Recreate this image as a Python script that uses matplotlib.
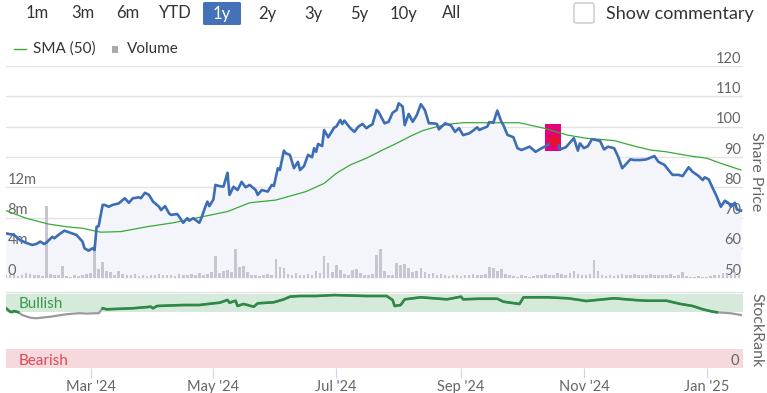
import numpy as np
import pandas as pd
import matplotlib
matplotlib.use("Agg")
import matplotlib.pyplot as plt
from matplotlib.patches import Rectangle, FancyBboxPatch
from matplotlib.lines import Line2D

plt.rcParams['font.family'] = ['Lato', 'DejaVu Sans']

W, H = 767, 393
start = pd.Timestamp('2024-01-19')
end = pd.Timestamp('2025-01-19')

# share price (days after start, price)
price_day = [0, 4, 7, 10, 13, 15, 17, 19, 20, 23,
             24, 27, 29, 32, 35, 38, 39, 41, 43, 44,
             45, 46, 48, 49, 51, 53, 56, 59, 61, 63,
             66, 67, 69, 71, 73, 76, 77, 79, 81, 82,
             85, 86, 88, 90, 91, 93, 96, 97, 99, 100,
             101, 103, 104, 106, 108, 110, 111, 113, 115, 117,
             119, 121, 124, 125, 127, 130, 132, 133, 135, 136,
             138, 139, 141, 143, 145, 146, 148, 150, 152, 153,
             154, 155, 157, 158, 160, 163, 164, 166, 167, 168,
             171, 173, 175, 177, 179, 180, 182, 184, 185, 188,
             190, 192, 194, 195, 197, 198, 200, 202, 204, 206,
             208, 210, 212, 214, 215, 218, 221, 223, 225, 227,
             230, 232, 234, 235, 237, 239, 240, 242, 244, 246,
             247, 249, 252, 254, 256, 260, 263, 266, 269, 272,
             274, 275, 278, 280, 282, 284, 285, 287, 289, 291,
             293, 295, 297, 299, 302, 304, 306, 308, 310, 312,
             315, 318, 322, 324, 327, 329, 331, 334, 336, 339,
             341, 344, 346, 347, 349, 351, 353, 355, 357, 359,
             360, 362, 363, 365]
price = [64.8, 64.3, 62.6, 61.7, 61.0, 61.3, 62.1, 61.3, 61.7, 63.7,
         63.2, 64.8, 65.7, 65.0, 64.3, 62.1, 59.9, 59.1, 59.9, 59.3,
         67.0, 67.2, 74.2, 74.2, 73.6, 74.2, 74.7, 76.4, 74.9, 76.4,
         76.7, 76.4, 78.2, 77.5, 75.3, 73.6, 72.5, 73.8, 71.4, 70.9,
         71.2, 70.3, 68.3, 69.8, 69.0, 69.8, 68.3, 69.8, 73.6, 75.3,
         73.8, 76.0, 80.8, 80.4, 80.2, 84.8, 77.5, 80.2, 79.1, 81.8,
         80.0, 80.8, 79.1, 77.5, 79.1, 78.6, 80.8, 80.4, 86.3, 85.7,
         92.1, 91.2, 90.7, 86.3, 88.4, 85.7, 87.0, 90.7, 89.9, 92.9,
         91.7, 94.3, 93.6, 98.9, 96.5, 99.7, 100.0, 102.2, 100.9, 102.0,
         99.5, 98.3, 100.0, 100.9, 99.5, 100.0, 100.8, 105.5, 104.9, 101.1,
         101.6, 104.6, 105.5, 107.7, 106.6, 100.5, 104.2, 101.6, 103.8, 107.4,
         105.5, 101.1, 101.1, 100.9, 99.1, 101.1, 100.4, 98.3, 99.5, 97.2,
         97.8, 98.7, 99.8, 98.9, 99.5, 100.0, 101.5, 101.3, 105.3, 101.6,
         100.5, 97.3, 96.5, 92.9, 92.3, 93.4, 91.7, 92.9, 93.9, 95.6,
         95.0, 92.5, 93.2, 94.7, 96.2, 92.1, 94.5, 92.9, 93.6, 95.9,
         95.6, 95.3, 92.5, 93.4, 92.9, 90.1, 86.3, 87.7, 89.2, 89.0,
         89.0, 89.2, 90.3, 88.4, 87.4, 85.7, 84.1, 84.1, 83.7, 86.6,
         85.1, 83.7, 82.4, 83.3, 82.6, 79.7, 76.9, 73.6, 75.6, 74.7,
         73.6, 74.9, 72.7, 72.3]

# 50 day moving average
sma_day = [0, 10, 21, 30, 38, 47, 57, 70, 83, 96,
           110, 121, 134, 141, 149, 158, 164, 171, 179, 187,
           194, 201, 207, 214, 221, 227, 237, 247, 255, 267,
           279, 288, 302, 312, 320, 328, 340, 348, 355, 365]
sma = [72.3, 69.8, 67.9, 67.0, 66.5, 65.2, 65.4, 67.0, 68.3, 70.1,
       72.0, 74.9, 75.8, 77.1, 78.6, 81.3, 84.6, 87.4, 89.6, 92.3,
       94.5, 96.9, 98.7, 100.0, 100.9, 101.3, 101.3, 101.3, 101.3, 99.5,
       97.2, 96.2, 95.4, 93.6, 92.3, 91.7, 90.3, 89.6, 87.9, 85.7]

# volume in millions, one bar every 2 days
volume = [0.5, 0.4, 0.6, 0.3, 0.5, 0.7, 0.6, 0.4, 0.5, 0.3,
          9.6, 0.6, 0.4, 0.5, 1.6, 0.3, 0.2, 0.4, 0.3, 0.5,
          0.6, 0.7, 4.4, 1.2, 2.1, 1.0, 0.8, 0.5, 0.9, 0.6,
          0.5, 0.4, 0.6, 0.3, 0.4, 0.3, 0.5, 0.4, 0.6, 0.5,
          0.4, 0.5, 0.3, 0.6, 0.5, 0.4, 0.6, 0.5, 0.7, 0.5,
          0.6, 0.8, 2.9, 0.7, 0.9, 1.1, 0.8, 3.9, 1.5, 1.6,
          0.8, 0.5, 0.4, 0.3, 0.5, 0.6, 0.5, 2.6, 1.5, 1.3,
          0.6, 0.5, 0.7, 0.4, 0.5, 0.6, 0.5, 0.9, 0.7, 2.9,
          2.0, 0.8, 1.8, 1.1, 0.6, 0.5, 1.1, 1.2, 0.7, 0.5,
          0.4, 0.6, 3.1, 3.9, 0.9, 0.5, 0.4, 2.0, 1.8, 1.9,
          1.3, 0.8, 0.9, 1.3, 0.8, 0.6, 0.7, 0.5, 0.6, 0.4,
          0.3, 0.5, 0.4, 0.3, 0.5, 0.4, 0.6, 0.5, 0.4, 0.6,
          1.5, 1.3, 0.9, 1.2, 0.6, 0.5, 0.3, 0.2, 0.4, 0.3,
          0.2, 0.3, 0.4, 0.5, 0.6, 0.4, 0.5, 0.7, 0.6, 0.5,
          0.7, 0.9, 0.6, 0.5, 0.4, 0.6, 2.4, 0.9, 0.5, 0.3,
          0.4, 0.3, 0.5, 0.6, 0.4, 0.5, 0.6, 0.5, 0.4, 0.5,
          0.6, 0.5, 0.4, 0.5, 0.4, 0.6, 0.3, 0.5, 0.8, 0.3,
          0.2, 0.2, 0.3, 0.2, 0.2, 0.3, 0.4, 0.5, 0.7, 0.6,
          0.5, 0.8, 0.6]

# StockRank
rank_day = [0, 2, 3, 4, 6, 8, 12, 15, 22, 30,
            36, 38, 40, 43, 46, 48, 50, 63, 72, 73,
            75, 88, 96, 103, 106, 110, 111, 114, 115, 118,
            123, 125, 133, 138, 141, 146, 154, 163, 179, 189,
            192, 193, 196, 198, 206, 219, 226, 227, 235, 244,
            247, 255, 257, 269, 279, 285, 288, 302, 312, 318,
            328, 335, 341, 346, 351, 353, 360, 365]
rank = [80.7, 76.1, 75.5, 77.0, 75.5, 71.6, 68.0, 67.2, 69.3, 72.6,
        74.0, 73.9, 73.5, 73.9, 74.0, 80.7, 79.3, 80.7, 82.8, 80.7,
        83.8, 85.1, 85.1, 87.4, 88.2, 91.9, 88.2, 90.9, 83.8, 86.5,
        82.8, 87.4, 88.8, 92.8, 96.4, 97.3, 97.3, 98.6, 97.3, 97.3,
        91.9, 83.8, 85.1, 92.8, 95.5, 92.8, 96.4, 92.8, 93.6, 93.6,
        89.6, 86.5, 95.5, 95.5, 94.2, 91.9, 90.5, 94.2, 91.9, 90.9,
        90.9, 86.5, 83.8, 79.3, 76.1, 75.3, 73.9, 71.6]

event_day = 272
event_price = 95.6

buttons = ['1m', '3m', '6m', 'YTD', '1y', '2y', '3y', '5y', '10y', 'All']
month_ticks = ['2024-03-01', '2024-05-01', '2024-07-01', '2024-09-01', '2024-11-01', '2025-01-01']
month_labels = ["Mar '24", "May '24", "Jul '24", "Sep '24", "Nov '24", "Jan '25"]
price_ticks = [50, 60, 70, 80, 90, 100, 110, 120]
vol_ticks = [0, 4, 8, 12]
vol_labels = ['0', '4m', '8m', '12m']

price_dates = start + pd.to_timedelta(price_day, unit='D')
sma_dates = start + pd.to_timedelta(sma_day, unit='D')
vol_dates = start + pd.to_timedelta(np.arange(len(volume)) * 2, unit='D')
rank_dates = start + pd.to_timedelta(rank_day, unit='D')
event_date = start + pd.Timedelta(days=event_day)


def fx(x):
    return x / W


def fy(y):
    return 1 - y / H


fig = plt.figure(figsize=(W / 100, H / 100), dpi=100)

grey = '#666666'

# ---------------- price panel
ax = fig.add_axes([fx(6), fy(278.3), fx(737), (278.3 - 66) / H])
ax.set_xlim(start, end)
ax.set_ylim(50, 120)
ax.fill_between(price_dates, price, 50, color='#f3f5fb', lw=0, zorder=1)
for v in price_ticks:
    ax.axhline(v, color='#e3e3e3', lw=1, zorder=0)
    ax.annotate(str(v), xy=(1, v), xycoords=('axes fraction', 'data'),
                xytext=(-1, 2.5), textcoords='offset points',
                ha='right', va='baseline', color=grey, fontsize=10.5, zorder=10)
ax.axis('off')

axv = ax.twinx()
axv.set_xlim(start, end)
axv.set_ylim(0, 28)
axv.bar(vol_dates, volume, width=1.3, color='#c5c6cf', lw=0, zorder=2)
for v, lab in zip(vol_ticks, vol_labels):
    axv.annotate(lab, xy=(0, v), xycoords=('axes fraction', 'data'),
                 xytext=(1, 2.5), textcoords='offset points',
                 ha='left', va='baseline', color=grey, fontsize=10.5, zorder=10)
axv.axis('off')

axl = ax.twinx()
axl.set_xlim(start, end)
axl.set_ylim(50, 120)
axl.add_patch(Rectangle((event_date - pd.Timedelta(days=4.2), event_price - 3.6),
                        pd.Timedelta(days=8), 8.9, color='#e5007e', lw=0, zorder=2))
axl.plot(sma_dates, sma, color='#3aa935', lw=0.9, zorder=3)
axl.plot(price_dates, price, color='#3d6db4', lw=1.9, zorder=4, solid_joinstyle='round')
axl.plot([event_date], [event_price], 'o', color='#e8112d', ms=7, zorder=5)
axl.axis('off')

fig.text(fx(756), fy(172), 'Share Price', rotation=-90, ha='center', va='center',
         color=grey, fontsize=11.5)

# ---------------- StockRank panel
axr = fig.add_axes([fx(6), fy(368), fx(737), 76 / H])
axr.set_xlim(start, end)
axr.set_ylim(0, 102.7)
axr.axhspan(75, 100, color='#d5eadb', lw=0)
axr.axhspan(0, 25, color='#f5d9dc', lw=0)
axr.plot(rank_dates, rank, color='#9a9a9a', lw=1.6)
green_rank = np.where(np.array(rank) >= 75, rank, np.nan)
axr.plot(rank_dates, green_rank, color='#2c8a44', lw=1.9)
for s in ['left', 'right', 'bottom']:
    axr.spines[s].set_visible(False)
axr.spines['top'].set_color('#e0e0e0')
axr.set_yticks([])
axr.set_xticks(pd.to_datetime(month_ticks))
axr.set_xticklabels(month_labels, color=grey, fontsize=10.5)
axr.tick_params(axis='x', length=7, color='#ccd6eb', pad=1.5)
axr.text(start + pd.Timedelta(days=6.5), 86, 'Bullish', color='#3a9a48', fontsize=11,
         va='center', ha='left')
axr.text(start + pd.Timedelta(days=6.5), 10, 'Bearish', color='#d9485a', fontsize=11,
         va='center', ha='left')
axr.text(end - pd.Timedelta(days=2), 10, '0', color=grey, fontsize=10.5,
         va='center', ha='right')

fig.text(fx(756), fy(330), 'StockRank', rotation=-90, ha='center', va='center',
         color=grey, fontsize=11.5)

# ---------------- range buttons and legend
button_x = [37, 83, 128, 175, 222, 267, 313, 359, 404, 452]
fig.patches.append(FancyBboxPatch((fx(203), fy(25)), fx(38), 23 / H,
                                  boxstyle='round,pad=0,rounding_size=0.003',
                                  transform=fig.transFigure, color='#4471b8', lw=0))
for lab, x in zip(buttons, button_x):
    fig.text(fx(x), fy(13.5), lab, ha='center', va='center', fontsize=12,
             color='white' if lab == '1y' else '#333333')

fig.patches.append(FancyBboxPatch((fx(574), fy(23)), fx(20), 20 / H,
                                  boxstyle='round,pad=0,rounding_size=0.004',
                                  transform=fig.transFigure, facecolor='white',
                                  edgecolor='#c8c8c8', lw=1))
fig.text(fx(606), fy(13.5), 'Show commentary', ha='left', va='center',
         fontsize=13, color='#333333')

fig.lines.append(Line2D([fx(14), fx(26)], [fy(49), fy(49)], color='#3aa935', lw=1,
                        transform=fig.transFigure))
fig.text(fx(33), fy(49), 'SMA (50)', ha='left', va='center', fontsize=11, color='#333333')
fig.patches.append(Rectangle((fx(112), fy(52.5)), fx(6.5), 6.5 / H, color='#aaaaaa',
                             transform=fig.transFigure, lw=0))
fig.text(fx(127), fy(49), 'Volume', ha='left', va='center', fontsize=11, color='#333333')

fig.savefig('out.png', dpi=100)
